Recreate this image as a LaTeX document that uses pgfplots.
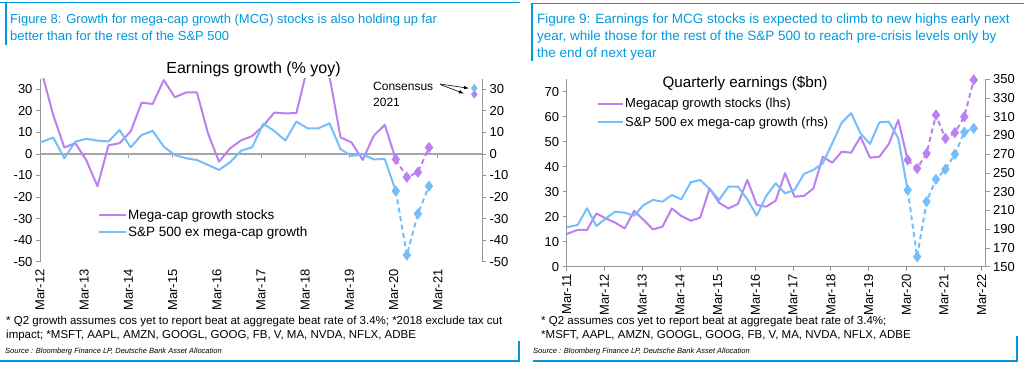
\documentclass[border=0pt]{standalone}
\usepackage{pgfplots}
\pgfplotsset{compat=1.18}
\usepackage{pgfplotstable}
\usepackage{fontspec}
\setmainfont{Liberation Sans}
\usetikzlibrary{arrows.meta}
\definecolor{dbblue}{RGB}{0,152,219}
\definecolor{mpurple}{RGB}{189,128,240}
\definecolor{mblue}{RGB}{116,190,252}
\definecolor{axgray}{RGB}{150,150,150}
\definecolor{zgray}{RGB}{165,165,165}

% ---------- Figure 8 data: earnings growth (% yoy)
\pgfplotstableread{
x y
0 41
1.2 18
2.2 3
3.2 5
4.2 -3
5.2 -15
6.2 4
7.2 5
8.2 10.4
9.2 23.8
10.2 23.2
11.2 34.3
12.2 26.3
13.2 28.5
14.2 28.6
15.2 9.6
16.2 -3.6
17.2 2.6
18.2 6.3
19.2 8.3
20.2 13
21.2 19.2
22.2 18.8
23.2 19
24.2 40
25.2 50
26.2 36
27.2 7.7
28.2 5.3
29.2 -2.8
30.2 8.4
31.2 13.5
32.2 -2.5
}\LPurple
\pgfplotstableread{
x y
32.2 -2.5
33.2 -10.8
34.2 -8.5
35.2 3
}\LPurpleF
\pgfplotstableread{
x y
0 5.3
1.2 7.6
2.2 -2
3.2 5.7
4.2 7
5.2 6.2
6.2 5.8
7.2 11.1
8.2 3.1
9.2 8.8
10.2 10.7
11.2 3.4
12.2 -0.5
13.2 -2
14.2 -2.8
15.2 -5.1
16.2 -7.4
17.2 -3.9
18.2 1.5
19.2 3.1
20.2 14
21.2 10.7
22.2 6.2
23.2 15
24.2 11.9
25.2 11.9
26.2 14.2
27.2 2.2
28.2 -0.9
29.2 -0.2
30.2 -2.5
31.2 -2.4
32.2 -17.2
}\LBlue
\pgfplotstableread{
x y
32.2 -17.2
33.2 -46.9
34.2 -27.8
35.2 -14.9
}\LBlueF

% ---------- Figure 9 data: quarterly earnings ($bn)
\pgfplotstableread{
x y
0 13.1
1.15 14.7
2.15 14.7
3.15 21.3
4.15 19.3
5.15 17.6
6.15 15.3
7.15 22.3
8.15 18.7
9.15 14.9
10.15 16
11.15 23.3
12.15 20.3
13.15 18.4
14.15 19.6
15.15 31.3
16.15 25.6
17.15 23.3
18.15 25.1
19.15 34.7
20.15 24.7
21.15 24
22.15 26.4
23.15 37.4
24.15 28
25.15 28.3
26.15 31.3
27.15 44
28.15 41.6
29.15 46
30.15 45.6
31.15 52
32.15 43.6
33.15 44
34.15 49.1
35.15 58.7
36.15 42.7
}\RPurple
\pgfplotstableread{
x y
36.15 42.7
37.15 39.3
38.15 45.3
39.15 60.7
40.15 51.3
41.15 53.6
42.15 60
43.15 74.7
}\RPurpleF
\pgfplotstableread{
x y
0 192
1.15 194.5
2.15 212.3
3.15 193.4
4.15 201.6
5.15 208.7
6.15 207.6
7.15 204.4
8.15 215.8
9.15 221.2
10.15 219.3
11.15 226.5
12.15 221.9
13.15 240
14.15 242.5
15.15 232.9
16.15 221.2
17.15 235.4
18.15 235.4
19.15 221.9
20.15 204.4
21.15 225.4
22.15 239
23.15 228.3
24.15 231.8
25.15 248.9
26.15 253.2
27.15 260.3
28.15 281.6
29.15 303.6
30.15 313.7
31.15 292.3
32.15 280.9
33.15 304
34.15 304.7
35.15 287
36.15 231.8
}\RBlue
\pgfplotstableread{
x y
36.15 231.8
37.15 160.7
38.15 219.4
39.15 243.2
40.15 253.9
41.15 269.9
42.15 293.4
43.15 297.6
}\RBlueF

\pgfplotsset{
  common/.style={
    scale only axis, anchor=south west,
    /pgf/number format/assume math mode=true,
    ticklabel style={font=\fontsize{13}{13}\selectfont},
    tick align=outside, major tick length=4pt,
    every tick/.style={axgray, line width=0.8pt},
    axis line style={axgray, line width=0.8pt},
    separate axis lines,
  },
  sol/.style={line width=2pt, line join=round},
  fc/.style={line width=2pt, dash pattern=on 5pt off 3.5pt, mark=diamond*, mark size=4pt, mark options={solid}},
}

\begin{document}
\begin{tikzpicture}
\useasboundingbox (0pt,0pt) rectangle (1024pt,-366pt);

% ================= LEFT CHART =================
\begin{axis}[common,
  at={(40pt,-261.7pt)}, width=442pt, height=183.2pt,
  xmin=0, xmax=40, ymin=-50, ymax=35,
  axis x line*=bottom, axis y line*=left,
  x axis line style={draw=none},
  xtick={0,4,...,36},
  xticklabels={Mar-12,Mar-13,Mar-14,Mar-15,Mar-16,Mar-17,Mar-18,Mar-19,Mar-20,Mar-21},
  x tick style={draw=none},
  xticklabel style={rotate=90, anchor=east},
  ytick={-50,-40,...,30},
  legend style={at={(0.131,0.293)}, anchor=north west, draw=none, fill=none,
    font=\fontsize{13.5}{13.5}\selectfont, row sep=4pt, inner sep=0pt,
    nodes={inner sep=1pt}, cells={anchor=west}},
  legend image code/.code={\draw[#1] (0pt,0pt) -- (27pt,0pt);},
]
\addplot[zgray, line width=1.8pt, forget plot] coordinates {(0,0) (40,0)};
\pgfplotsinvokeforeach{4,8,...,40}{\draw[zgray, line width=0.8pt] (axis cs:#1,0) -- ++(0pt,-4pt);}
\addplot[sol, mpurple] table {\LPurple};
\addlegendentry{Mega-cap growth stocks}
\addplot[sol, mblue] table {\LBlue};
\addlegendentry{S\&P 500 ex mega-cap growth}
\addplot[fc, mpurple, forget plot] table {\LPurpleF};
\addplot[fc, mblue, forget plot] table {\LBlueF};
\addplot[only marks, mark=diamond*, mark size=4pt, mpurple, forget plot] coordinates {(39.3,27.7)};
\addplot[only marks, mark=diamond*, mark size=4pt, mblue, forget plot] coordinates {(39.3,30.5)};
\end{axis}
\begin{axis}[common,
  at={(40pt,-261.7pt)}, width=442pt, height=183.2pt,
  xmin=0, xmax=40, ymin=-50, ymax=35,
  axis y line*=right, axis x line=none,
  ytick={-50,-40,...,30},
]
\addplot[draw=none] coordinates {(0,0)};
\end{axis}

% ================= RIGHT CHART =================
\begin{axis}[common,
  at={(566.7pt,-266.7pt)}, width=418.8pt, height=187.5pt,
  xmin=0, xmax=44.4, ymin=0, ymax=75,
  axis x line*=bottom, axis y line*=left,
  xtick={0,4,...,44},
  xticklabels={Mar-11,Mar-12,Mar-13,Mar-14,Mar-15,Mar-16,Mar-17,Mar-18,Mar-19,Mar-20,Mar-21,Mar-22},
  xticklabel style={rotate=90, anchor=east},
  ytick={0,10,...,70},
]
\addplot[sol, mpurple] table {\RPurple};
\addplot[fc, mpurple] table {\RPurpleF};
\end{axis}
\begin{axis}[common,
  at={(566.7pt,-266.7pt)}, width=418.8pt, height=187.5pt,
  xmin=0, xmax=44.4, ymin=150, ymax=350,
  axis y line*=right, axis x line=none,
  ytick={150,170,...,350},
  legend style={at={(0.0723,0.905)}, anchor=north west, draw=none, fill=none,
    font=\fontsize{13}{13}\selectfont, row sep=5.5pt, inner sep=0pt,
    nodes={inner sep=1pt}, cells={anchor=west}},
  legend image code/.code={\draw[#1] (0pt,0pt) -- (25pt,0pt);},
]
\addlegendimage{sol, mpurple}
\addlegendentry{Megacap growth stocks (lhs)}
\addplot[sol, mblue] table {\RBlue};
\addlegendentry{S\&P 500 ex mega-cap growth (rhs)}
\addplot[fc, mblue, forget plot] table {\RBlueF};
\end{axis}

% ================= TEXT AND FRAMES =================
\begin{scope}[x=1pt, y=-1pt]
\draw[dbblue, line width=1.3pt] (0,2.7) -- (520,2.7);
\draw[dbblue, line width=1.3pt] (6,2.7) -- (6,45);
\draw[dbblue, line width=1.3pt] (532,3.5) -- (1024,3.5);
\draw[dbblue, line width=1.3pt] (532,3.5) -- (532,61);
\draw[dbblue, line width=1.3pt] (0,361) -- (519,361) -- (519,341);
\draw[dbblue, line width=1.3pt] (533,361) -- (1017,361) -- (1017,336);

\begin{scope}[every node/.style={anchor=base west, inner sep=0pt, text=dbblue, font=\fontsize{13}{13}\selectfont}]
\node at (10,24) {Figure 8: Growth for mega-cap growth (MCG) stocks is also holding up far};
\node at (10,41) {better than for the rest of the S\&P 500};
\end{scope}
\begin{scope}[every node/.style={anchor=base west, inner sep=0pt, text=dbblue, font=\fontsize{13.5}{13.5}\selectfont}]
\node at (537,24) {Figure 9: Earnings for MCG stocks is expected to climb to new highs early next};
\node at (537,41) {year, while those for the rest of the S\&P 500 to reach pre-crisis levels only by};
\node at (537,58) {the end of next year};
\end{scope}

\node[font=\fontsize{16}{16}\selectfont, inner sep=0pt] at (253.5,69) {Earnings growth (\% yoy)};
\node[font=\fontsize{15.2}{15.2}\selectfont, inner sep=0pt] at (745,83) {Quarterly earnings (\$bn)};

\node[font=\fontsize{12}{12}\selectfont, anchor=base west, inner sep=0pt] at (373,91) {Consensus};
\node[font=\fontsize{12}{12}\selectfont, anchor=base west, inner sep=0pt] at (373,107) {2021};
\draw[-{Latex[length=5pt,width=3.5pt]}, line width=0.6pt] (440,84) -- (469,88.3);
\draw[-{Latex[length=5pt,width=3.5pt]}, line width=0.6pt] (440,84.5) -- (464,93.5);

\begin{scope}[every node/.style={anchor=base west, inner sep=0pt, font=\fontsize{11.5}{11.5}\selectfont}]
\node at (6,324) {* Q2 growth assumes cos yet to report beat at aggregate beat rate of 3.4\%; *2018 exclude tax cut};
\node at (6,338) {impact; *MSFT, AAPL, AMZN, GOOGL, GOOG, FB, V, MA, NVDA, NFLX, ADBE};
\node at (541,324) {* Q2 assumes cos yet to report beat at aggregate beat rate of 3.4\%;};
\node at (541,338) {*MSFT, AAPL, AMZN, GOOGL, GOOG, FB, V, MA, NVDA, NFLX, ADBE};
\end{scope}
\begin{scope}[every node/.style={anchor=base west, inner sep=0pt, font=\fontsize{7.5}{7.5}\selectfont\itshape}]
\node at (5,353) {Source : Bloomberg Finance LP, Deutsche Bank Asset Allocation};
\node at (533,353) {Source : Bloomberg Finance LP, Deutsche Bank Asset Allocation};
\end{scope}
\end{scope}
\end{tikzpicture}
\end{document}
